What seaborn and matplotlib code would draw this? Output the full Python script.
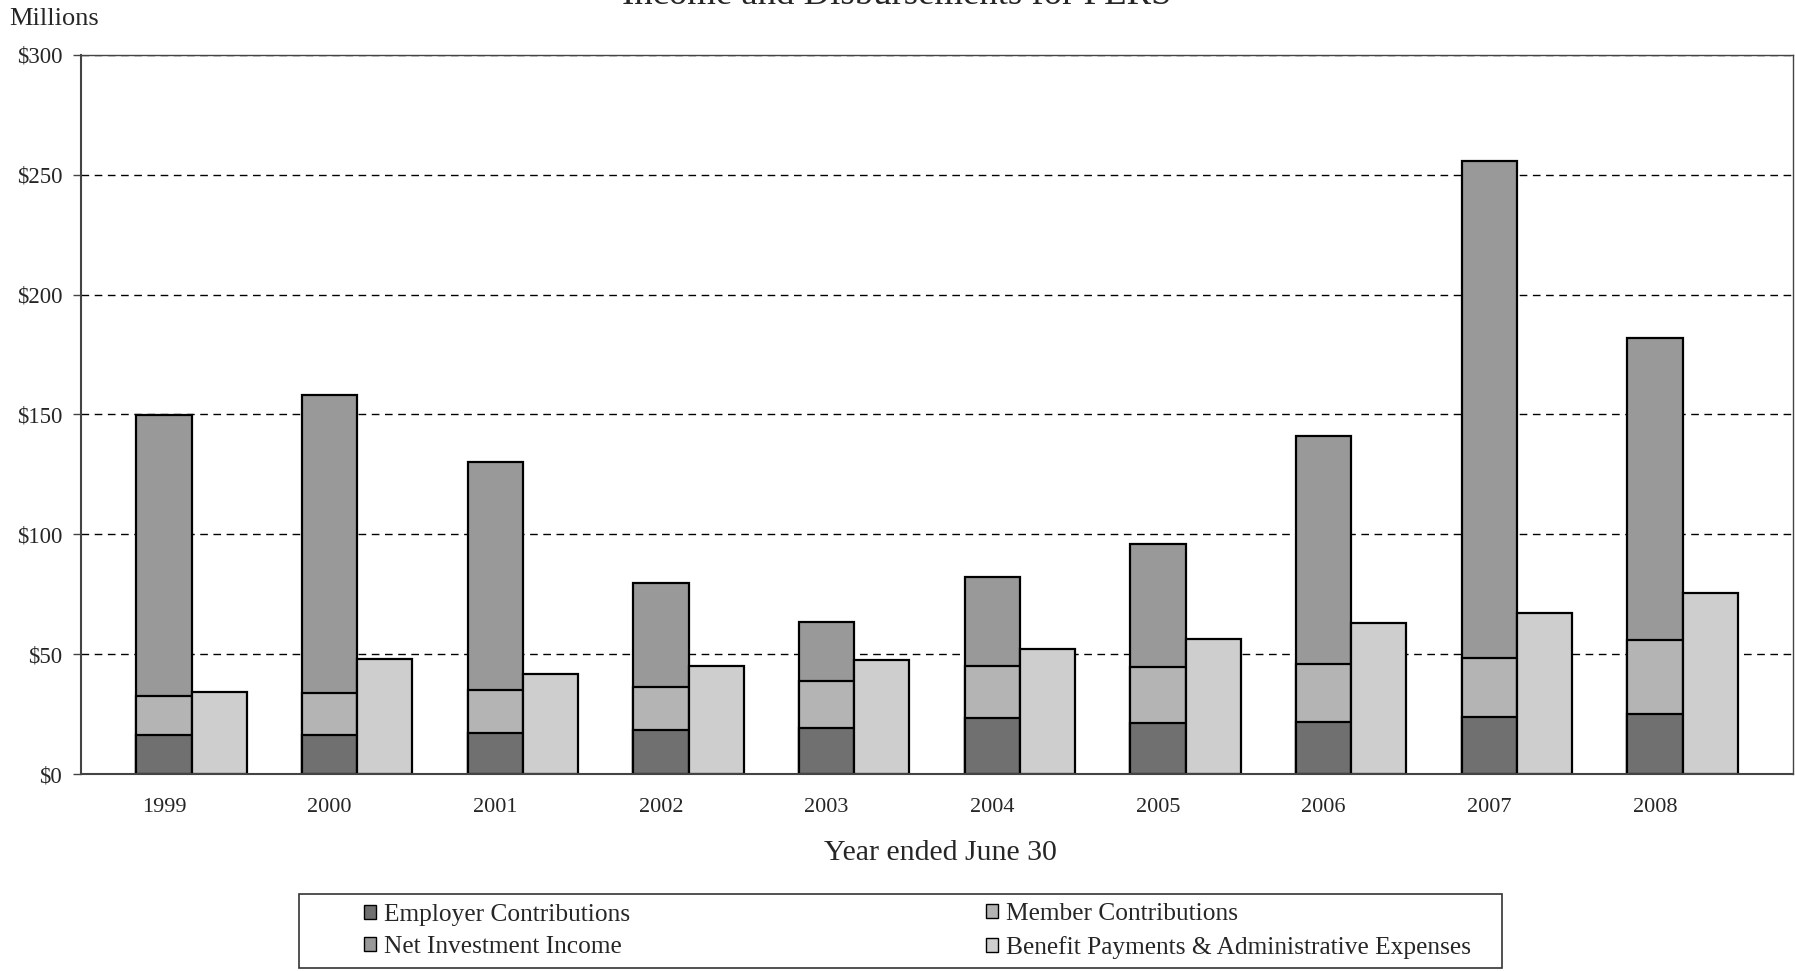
import numpy as np
import pandas as pd
import matplotlib
matplotlib.use("Agg")
import matplotlib.pyplot as plt
from matplotlib.patches import Patch, Rectangle
import seaborn as sns

# ---- data (millions of dollars) ----
years = ["1999", "2000", "2001", "2002", "2003", "2004", "2005", "2006", "2007", "2008"]
employer = [16.3, 16.3, 17.1, 18.5, 19.2, 23.4, 21.1, 21.8, 23.6, 25.2]
member = [16.4, 17.3, 18.1, 17.7, 19.5, 21.7, 23.4, 24.3, 25.0, 30.7]
investment = [117.0, 124.5, 94.9, 43.5, 24.8, 36.9, 51.6, 95.0, 207.1, 126.2]
benefit = [34.3, 48.0, 41.6, 45.0, 47.5, 52.2, 56.2, 63.0, 67.0, 75.7]
y_ticks = [0, 50, 100, 150, 200, 250, 300]
y_tick_labels = ["$0", "$50", "$100", "$150", "$200", "$250", "$300"]
series_names = ["Employer Contributions", "Member Contributions",
                "Net Investment Income", "Benefit Payments & Administrative Expenses"]

# ---- style ----
c_emp = "#707070"
c_mem = "#b4b4b4"
c_inv = "#999999"
c_ben = "#cecece"
bar_w = 0.333

sns.set_theme(style="white")
plt.rcParams["font.family"] = ["Liberation Serif", "DejaVu Serif"]
plt.rcParams["lines.scale_dashes"] = False

W, H = 1795, 971
fig = plt.figure(figsize=(W / 100, H / 100), dpi=100)
ax = fig.add_axes([81 / W, 1 - 774 / H, (1793 - 81) / W, (774 - 55) / H])

pos = np.arange(len(years))
df = pd.DataFrame({
    "pos": pos,
    "employer": employer,
    "member_top": np.array(employer) + np.array(member),
    "total": np.array(employer) + np.array(member) + np.array(investment),
    "benefit_pos": pos + bar_w,
    "benefit": benefit,
})

common = dict(native_scale=True, width=bar_w, saturation=1, errorbar=None,
              edgecolor="black", linewidth=1.6, ax=ax)
sns.barplot(data=df, x="pos", y="total", color=c_inv, **common)
sns.barplot(data=df, x="pos", y="member_top", color=c_mem, **common)
sns.barplot(data=df, x="pos", y="employer", color=c_emp, **common)
sns.barplot(data=df, x="benefit_pos", y="benefit", color=c_ben, **common)

ax.set_xlim(-0.501, 9.833)
ax.set_ylim(0, 300)
ax.set_xticks(pos)
ax.set_xticklabels(years, fontsize=16)
ax.set_yticks(y_ticks)
ax.set_yticklabels(y_tick_labels, fontsize=16.5)
ax.tick_params(axis="x", length=0, pad=17)
ax.tick_params(axis="y", direction="out", length=5.5, width=1, color="#444444", pad=8, left=True)

ax.set_axisbelow(True)
ax.yaxis.grid(True, color="black", linewidth=1, linestyle=(0, (5.5, 4)))
ax.xaxis.grid(False)

for side, sp in ax.spines.items():
    sp.set_visible(True)
    sp.set_color("#444444")
    sp.set_linewidth(1.0)
ax.spines["left"].set_linewidth(1.5)
ax.spines["bottom"].set_linewidth(1.5)

ax.set_xlabel("Year ended June 30", fontsize=21.5)
ax.set_ylabel("")
ax.xaxis.set_label_coords((940 - 81) / 1712, (774 - 853) / 719)
ax.xaxis.label.set_va("center")

# title (partly cut off at top as in reference)
fig.text(897 / W, 1 - 4 / H, "Income and Disbursements for PERS",
         ha="center", va="baseline", fontsize=26.5)
fig.text(9 / W, 1 - 19 / H, "Millions", ha="left", va="center", fontsize=19)

# legend
handles = [Patch(facecolor=c, edgecolor="black", linewidth=1)
           for c in [c_emp, c_mem, c_inv, c_ben]]
leg_kw = dict(frameon=False, fontsize=18.3, handlelength=0.47, handleheight=0.47,
              handletextpad=0.3, labelspacing=0.4, borderpad=0, borderaxespad=0,
              loc="center left")
leg1 = fig.legend([handles[0], handles[2]], [series_names[0], series_names[2]],
                  bbox_to_anchor=(364 / W, 1 - 931 / H), **leg_kw)
leg2 = fig.legend([handles[1], handles[3]], [series_names[1], series_names[3]],
                  bbox_to_anchor=(986 / W, 1 - 931 / H), **leg_kw)
fig.add_artist(Rectangle((299 / W, 1 - 968 / H), (1502 - 299) / W, (968 - 894) / H,
                         transform=fig.transFigure, fill=False,
                         edgecolor="#333333", linewidth=1.2))

fig.savefig("out.png", dpi=100)
